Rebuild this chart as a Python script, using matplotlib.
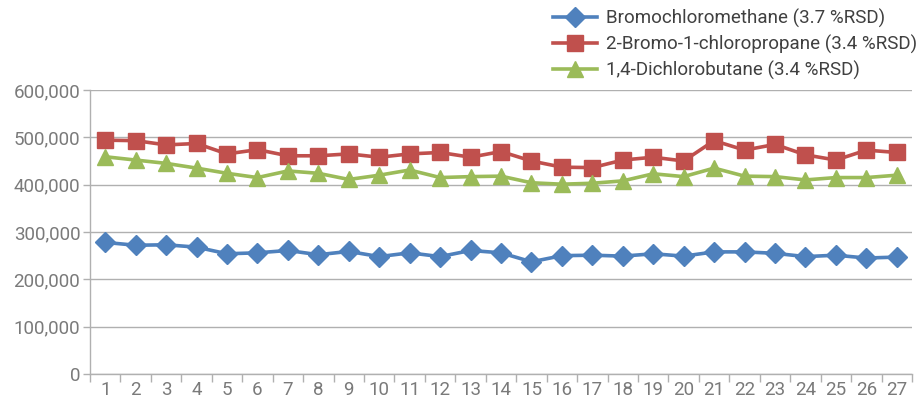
import matplotlib
matplotlib.use("Agg")
import matplotlib.pyplot as plt
from matplotlib.ticker import FuncFormatter, FixedLocator

runs = list(range(1, 28))

bromochloromethane = [278000, 272000, 273000, 268000, 254000, 256000, 261000, 252000, 259000, 248000,
                      256000, 248000, 261000, 256000, 237000, 250000, 251000, 249000, 254000, 249000,
                      258000, 258000, 255000, 248000, 251000, 245000, 247000]
bromo_chloropropane = [494000, 493000, 484000, 487000, 465000, 474000, 461000, 461000, 465000, 458000,
                       465000, 468000, 458000, 470000, 450000, 437000, 436000, 452000, 458000, 450000,
                       493000, 473000, 485000, 463000, 452000, 473000, 468000]
dichlorobutane = [459000, 452000, 445000, 435000, 424000, 415000, 429000, 424000, 411000, 420000,
                  431000, 415000, 417000, 418000, 404000, 401000, 403000, 408000, 423000, 417000,
                  435000, 418000, 417000, 410000, 415000, 415000, 420000]

labels = ["Bromochloromethane (3.7 %RSD)",
          "2-Bromo-1-chloropropane (3.4 %RSD)",
          "1,4-Dichlorobutane (3.4 %RSD)"]
y_ticks = [0, 100000, 200000, 300000, 400000, 500000, 600000]

plt.rcParams['font.family'] = ['Roboto', 'DejaVu Sans']
text_color = "#7a7a7a"
grid_color = "#b0b0b0"
fs = 13.5

fig = plt.figure(figsize=(9.19, 4.0), dpi=100)
ax = fig.add_axes([90 / 919, 26 / 400, 822 / 919, 284 / 400])

series = [
    (bromochloromethane, "#4F81BD", "D", 10),
    (bromo_chloropropane, "#C0504D", "s", 11),
    (dichlorobutane, "#9BBB59", "^", 12),
]
handles = []
for (vals, color, marker, ms), lab in zip(series, labels):
    h, = ax.plot(runs, vals, color=color, lw=2.6, marker=marker, ms=ms,
                 markeredgecolor=color, label=lab, zorder=3)
    handles.append(h)

ax.set_xlim(0.5, 27.5)
ax.set_ylim(0, 600000)
ax.set_yticks(y_ticks)
ax.yaxis.set_major_formatter(FuncFormatter(lambda v, p: f"{int(v):,}"))
ax.set_xticks(runs)
ax.set_xticklabels([str(r) for r in runs])
ax.xaxis.set_minor_locator(FixedLocator([r + 0.5 for r in range(0, 28)]))
ax.tick_params(axis='x', which='major', length=0, pad=5, labelsize=fs, colors=text_color)
ax.tick_params(axis='x', which='minor', length=6, color=grid_color, width=1)
ax.tick_params(axis='y', length=5, color=grid_color, width=1, labelsize=fs,
               labelcolor=text_color, pad=2)
ax.grid(axis='y', color=grid_color, lw=1)
ax.set_axisbelow(True)
for side in ['top', 'right']:
    ax.spines[side].set_visible(False)
for side in ['left', 'bottom']:
    ax.spines[side].set_color(grid_color)
    ax.spines[side].set_linewidth(1)

fig.legend(handles=handles, loc='upper left', bbox_to_anchor=(545 / 919, 1.0),
           frameon=False, fontsize=fs, labelcolor="#404040", handlelength=2.3,
           handletextpad=0.5, labelspacing=0.36, borderaxespad=0.05)

fig.savefig("out.png", dpi=100)
